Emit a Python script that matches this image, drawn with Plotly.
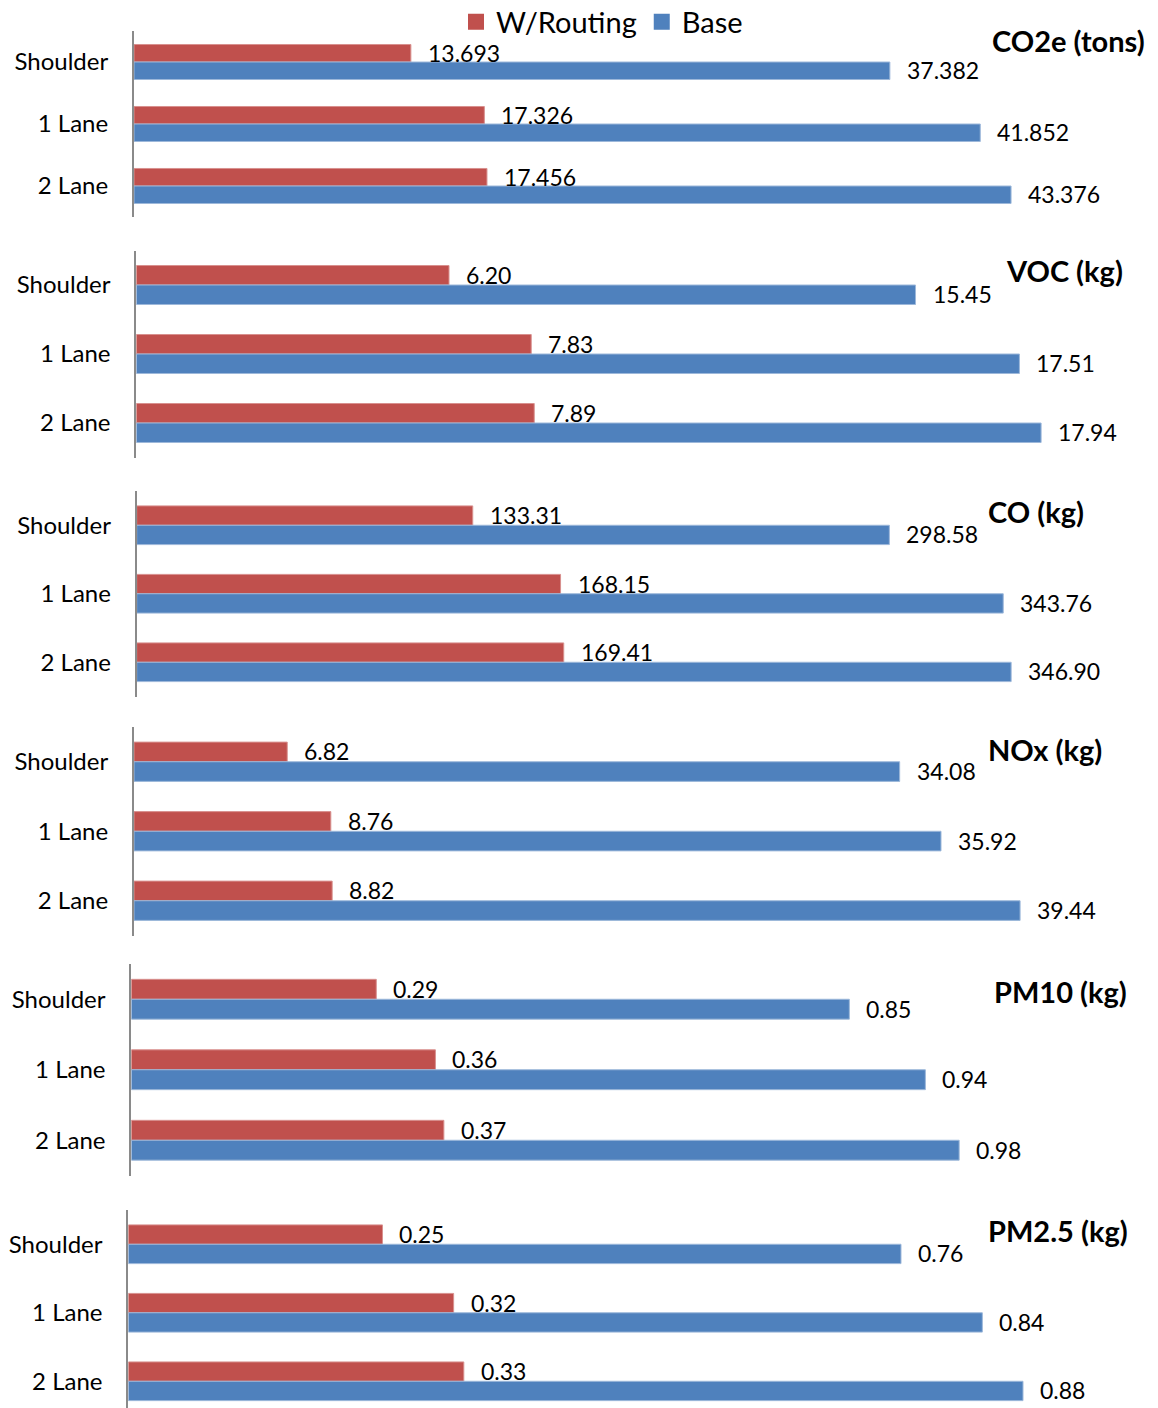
import plotly.graph_objects as go

# ---- data -------------------------------------------------------------
categories = ["Shoulder", "1 Lane", "2 Lane"]
series_names = ["W/Routing", "Base"]

co2e_routing = [13.693, 17.326, 17.456]
co2e_base = [37.382, 41.852, 43.376]

voc_routing = [6.20, 7.83, 7.89]
voc_base = [15.45, 17.51, 17.94]

co_routing = [133.31, 168.15, 169.41]
co_base = [298.58, 343.76, 346.90]

nox_routing = [6.82, 8.76, 8.82]
nox_base = [34.08, 35.92, 39.44]

pm10_routing = [0.29, 0.36, 0.37]
pm10_base = [0.85, 0.94, 0.98]

pm25_routing = [0.25, 0.32, 0.33]
pm25_base = [0.76, 0.84, 0.88]

# ---- styling / layout --------------------------------------------------
W, H = 1158, 1408
RED = "#C0504D"
BLUE = "#4F81BD"
RED_EDGE = "#D8908E"
BLUE_EDGE = "#9DB8DA"
FONT = "Lato"
RIGHT_PX = 1145
BARGAP = 0.435

# title, routing, base, axis max, label format,
# axis-left px, top px, bottom px, category span shown, title left px, title center px
panels = [
    ("CO2e (tons)", co2e_routing, co2e_base, 50, "{:.3f}", 134, 31, 217, 3.0, 990, 40),
    ("VOC (kg)", voc_routing, voc_base, 20, "{:.2f}", 136.3, 250.5, 457.5, 3.0, 1004, 270),
    ("CO (kg)", co_routing, co_base, 400, "{:.2f}", 136.7, 491, 696.5, 3.0, 986, 511),
    ("NOx (kg)", nox_routing, nox_base, 45, "{:.2f}", 134, 727, 935.5, 3.0, 986, 749),
    ("PM10 (kg)", pm10_routing, pm10_base, 1.2, "{:.2f}", 131.3, 964, 1175.5, 3.0, 992, 991),
    ("PM2.5 (kg)", pm25_routing, pm25_base, 1.0, "{:.2f}", 128.3, 1210, 1408, 2.89, 986, 1230),
]

fig = go.Figure()

# legend entries (square swatches)
for name, col in zip(series_names, [RED, BLUE]):
    fig.add_trace(go.Scatter(
        x=[None], y=[None], mode="markers", name=name,
        marker=dict(symbol="square", size=18, color=col),
        xaxis="x", yaxis="y", showlegend=True,
    ))

annotations = []
for i, (title, routing, base, xmax, fmt, x0, top, bot, span, tx, ty) in enumerate(panels):
    sfx = "" if i == 0 else str(i + 1)
    xa, ya = "x" + sfx, "y" + sfx

    for vals, col, edge, name in ((routing, RED, RED_EDGE, series_names[0]),
                                   (base, BLUE, BLUE_EDGE, series_names[1])):
        fig.add_trace(go.Bar(
            y=categories, x=vals, orientation="h", name=name,
            marker=dict(color=col, line=dict(color=edge, width=1)),
            xaxis=xa, yaxis=ya, showlegend=False,
        ))

    fig.layout["xaxis" + sfx] = dict(
        domain=[x0 / W, RIGHT_PX / W], range=[0, xmax], anchor=ya,
        showticklabels=False, showgrid=False, zeroline=False, showline=False,
        ticks="", fixedrange=True,
    )
    fig.layout["yaxis" + sfx] = dict(
        domain=[1 - bot / H, 1 - top / H], anchor=xa,
        type="category", categoryorder="array", categoryarray=categories,
        range=[span - 0.5, -0.5],
        showline=True, linecolor="#8A8A8A", linewidth=2,
        showgrid=False, zeroline=False, ticks="",
        ticklabelstandoff=19,
        tickfont=dict(family=FONT, size=24, color="#000000"),
        fixedrange=True,
    )

    # value labels at bar ends
    spacing = (bot - top) / span
    half = spacing * (1 - BARGAP) / 4
    for vals, shift in ((routing, half + 0.5), (base, -(half - 0.5))):
        for cat, v in zip(categories, vals):
            annotations.append(dict(
                x=v, y=cat, xref=xa, yref=ya, text=fmt.format(v),
                showarrow=False, xanchor="left", yanchor="middle",
                xshift=15, yshift=shift,
                font=dict(family=FONT, size=23, color="#000000"),
            ))

    # panel heading
    annotations.append(dict(
        x=tx / W, y=1 - ty / H, xref="paper", yref="paper",
        text="<b>" + title + "</b>", showarrow=False,
        xanchor="left", yanchor="middle",
        font=dict(family=FONT, size=29, color="#000000"),
    ))

fig.update_layout(
    width=W, height=H,
    margin=dict(l=0, r=0, t=0, b=0, autoexpand=False),
    paper_bgcolor="white", plot_bgcolor="white",
    barmode="group", bargap=BARGAP, bargroupgap=0,
    font=dict(family=FONT, color="#000000"),
    legend=dict(
        orientation="h", x=456 / W, y=1 - 22 / H, xanchor="left", yanchor="middle",
        font=dict(family=FONT, size=29, color="#000000"),
        bgcolor="rgba(0,0,0,0)", itemclick=False, itemdoubleclick=False,
    ),
    annotations=annotations,
)

fig.write_html("out.html")
